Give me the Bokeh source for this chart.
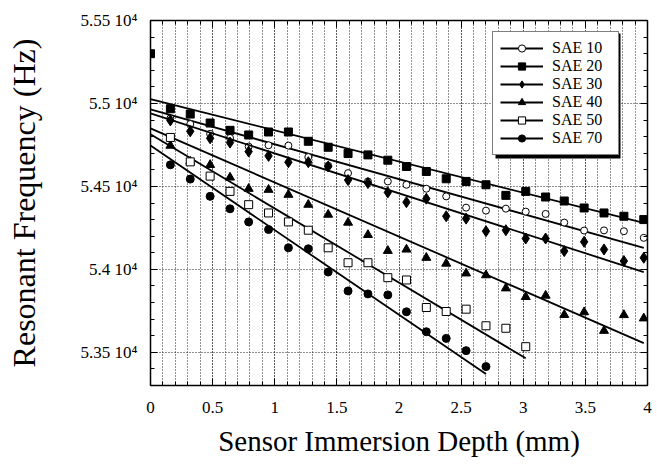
from bokeh.plotting import figure
from bokeh.models import FixedTicker, LinearAxis, Legend, LegendItem, Range1d, BoxAnnotation
from bokeh.embed import file_html
from bokeh.resources import INLINE

# ---------------- data ----------------
depth_mm = [0.00, 0.16, 0.32, 0.48, 0.64, 0.79, 0.95, 1.11, 1.27, 1.43, 1.59, 1.75, 1.91,
            2.06, 2.22, 2.38, 2.54, 2.70, 2.86, 3.02, 3.18, 3.33, 3.49, 3.65, 3.81, 3.97]

series_names = ["SAE 10", "SAE 20", "SAE 30", "SAE 40", "SAE 50", "SAE 70"]

sae10 = [54910, 54876, 54817, 54792, 54740, 54748, 54746, 54677, 54625, 54580, 54530, 54530,
         54510, 54486, 54440, 54372, 54354, 54366, 54348, 54334, 54282, 54234, 54235, 54230, 54190]
sae20 = [55300, 54968, 54936, 54882, 54838, 54810, 54828, 54828, 54772, 54736, 54698, 54690, 54658,
         54620, 54590, 54546, 54530, 54510, 54446, 54470, 54436, 54412, 54370, 54340, 54320, 54300]
sae30 = [54898, 54832, 54790, 54764, 54710, 54684, 54646, 54646, 54620, 54538, 54520, 54464,
         54405, 54426, 54320, 54306, 54230, 54236, 54186, 54186, 54110, 54166, 54120, 54050, 54070]
sae40 = [54746, 54650, 54630, 54554, 54486, 54480, 54450, 54390, 54330, 54282, 54208, 54112,
         54120, 54070, 54035, 53976, 53965, 53886, 53834, 53842, 53726, 53742, 53630, 53725, 53705]
sae50 = [54795, 54648, 54562, 54470, 54390, 54340, 54286, 54236, 54130, 54040, 54040, 53950,
         53936, 53770, 53746, 53760, 53660, 53645, 53534]
sae70 = [54630, 54544, 54440, 54365, 54286, 54240, 54130, 54124, 53984, 53870, 53852, 53846,
         53744, 53624, 53584, 53510, 53414]

# linear-fit lines (start at depth 0)
fit_x_end = [3.97, 3.97, 3.97, 3.97, 3.02, 2.70]
fit_y_start = [54964, 55026, 54940, 54850, 54814, 54746]
fit_y_end = [54130, 54280, 53984, 53555, 53464, 53370]

x_ticks = [0, 0.5, 1, 1.5, 2, 2.5, 3, 3.5, 4]
x_tick_labels = ["0", "0.5", "1", "1.5", "2", "2.5", "3", "3.5", "4"]
y_ticks = [53500, 54000, 54500, 55000, 55500]
y_tick_labels = ["5.35 10\u2074", "5.4 10\u2074", "5.45 10\u2074", "5.5 10\u2074", "5.55 10\u2074"]

x_title = "Sensor Immersion Depth (mm)"
y_title = "Resonant Frequency (Hz)"

# ---------------- figure ----------------
FONT = "Liberation Serif"

p = figure(width=655, height=466, x_range=Range1d(0, 4), y_range=Range1d(53300, 55500),
           output_backend="svg", toolbar_location=None,
           min_border_left=150, min_border_right=8, min_border_top=20, min_border_bottom=81)
p.background_fill_color = "white"
p.border_fill_color = "white"
p.outline_line_color = "black"
p.outline_line_width = 1.5

xt = FixedTicker(ticks=x_ticks, minor_ticks=[i / 10 for i in range(41)])
yt = FixedTicker(ticks=y_ticks, minor_ticks=list(range(53300, 55600, 100)))


def style_axis(ax):
    ax.axis_line_color = None
    ax.major_tick_in = 7
    ax.major_tick_out = 0
    ax.minor_tick_in = 4
    ax.minor_tick_out = 0
    ax.major_tick_line_color = "black"
    ax.minor_tick_line_color = "black"
    ax.major_label_text_font = FONT
    ax.major_label_text_font_size = "17px"
    ax.major_label_text_color = "black"
    ax.axis_label_text_font = FONT
    ax.axis_label_text_font_style = "normal"
    ax.axis_label_text_color = "black"


xa = p.xaxis[0]
ya = p.yaxis[0]
xa.ticker = xt
ya.ticker = yt
style_axis(xa)
style_axis(ya)
xa.major_label_overrides = dict(zip(x_ticks, x_tick_labels))
ya.major_label_overrides = dict(zip(y_ticks, y_tick_labels))
xa.axis_label = x_title
ya.axis_label = y_title
xa.axis_label_text_font_size = "29px"
ya.axis_label_text_font_size = "32px"
xa.major_label_standoff = 16
xa.axis_label_standoff = 9
ya.major_label_standoff = 13
ya.axis_label_standoff = 36

top = LinearAxis(ticker=xt)
right = LinearAxis(ticker=yt)
style_axis(top)
style_axis(right)
top.major_label_overrides = {t: "" for t in x_ticks}
right.major_label_overrides = {t: "" for t in y_ticks}
top.major_label_standoff = 0
right.major_label_standoff = 0
p.add_layout(top, "above")
p.add_layout(right, "right")

p.xgrid.ticker = xt
p.ygrid.ticker = yt
p.xgrid.grid_line_color = "#222222"
p.xgrid.grid_line_dash = "1 2"
p.xgrid.grid_line_width = 1
p.xgrid.minor_grid_line_color = "#222222"
p.xgrid.minor_grid_line_dash = "1 2"
p.xgrid.minor_grid_line_width = 1
p.ygrid.grid_line_color = "#222222"
p.ygrid.grid_line_dash = "1 2"
p.ygrid.grid_line_width = 1

# ---------------- series ----------------
series_x = [depth_mm[1:26], depth_mm[0:26], depth_mm[1:26], depth_mm[1:26],
            depth_mm[1:20], depth_mm[1:18]]
series_y = [sae10, sae20, sae30, sae40, sae50, sae70]
markers = ["circle", "square", "diamond", "triangle", "square", "circle"]
fills = ["white", "black", "black", "black", "white", "black"]
sizes = [7, 8, 11, 9, 8, 8]

items = []
for i, name in enumerate(series_names):
    lr = p.line([0, fit_x_end[i]], [fit_y_start[i], fit_y_end[i]],
                line_color="black", line_width=1.8)
    sr = p.scatter(series_x[i], series_y[i], marker=markers[i], size=sizes[i],
                   fill_color=fills[i], line_color="black", line_width=1)
    items.append(LegendItem(label=name, renderers=[lr, sr]))

# legend box geometry (screen px, relative to the plot frame's bottom-left)
LEG_X, LEG_Y, LEG_W, LEG_H, SHADOW = 342, 230, 125, 125, 3

shadow = BoxAnnotation(left=LEG_X + SHADOW, right=LEG_X + LEG_W + SHADOW,
                       bottom=LEG_Y - SHADOW, top=LEG_Y + LEG_H - SHADOW,
                       left_units="screen", right_units="screen",
                       top_units="screen", bottom_units="screen",
                       fill_color="black", fill_alpha=1, line_color=None)
p.add_layout(shadow)

legend = Legend(items=items, location=(LEG_X, LEG_Y), background_fill_color="white",
                background_fill_alpha=1, border_line_color="black", border_line_width=1,
                label_text_color="black", label_text_font=FONT, label_text_font_size="16px",
                glyph_width=43, glyph_height=18, label_height=18, label_width=59,
                label_standoff=9, spacing=0, padding=7, margin=0)
p.add_layout(legend, "center")

open("out.html", "w").write(file_html(p, INLINE))
